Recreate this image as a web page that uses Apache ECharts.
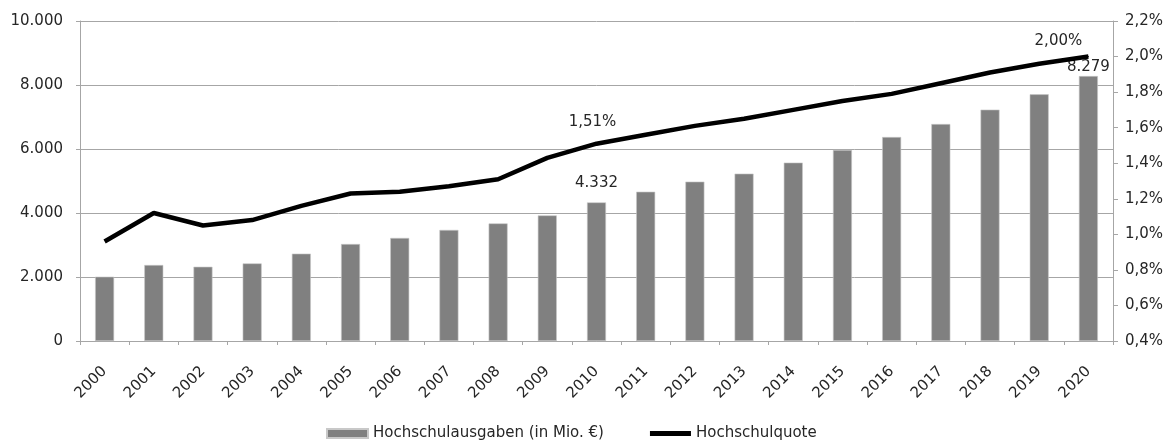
<!DOCTYPE html>
<html>
<head>
<meta charset="utf-8">
<script src="https://cdn.jsdelivr.net/npm/echarts@6/dist/echarts.min.js"></script>
<style>
  html, body { margin: 0; padding: 0; background: #fff; }
  #chart { width: 1172px; height: 443px; }
</style>
</head>
<body>
<div id="chart"></div>
<script>
// data
const years = ["2000", "2001", "2002", "2003", "2004", "2005", "2006", "2007", "2008", "2009", "2010",
  "2011", "2012", "2013", "2014", "2015", "2016", "2017", "2018", "2019", "2020"];
const ausgaben = [2010, 2375, 2320, 2425, 2730, 3030, 3220, 3470, 3675, 3925, 4332,
  4665, 4980, 5230, 5575, 5970, 6375, 6780, 7230, 7710, 8279];
const quote = [0.96, 1.12, 1.05, 1.08, 1.16, 1.23, 1.24, 1.27, 1.31, 1.43, 1.51,
  1.56, 1.61, 1.65, 1.70, 1.75, 1.79, 1.85, 1.91, 1.96, 2.00];
const leftTicks = [0, 2000, 4000, 6000, 8000, 10000];
const rightTicks = [0.4, 0.6, 0.8, 1.0, 1.2, 1.4, 1.6, 1.8, 2.0, 2.2];

const FONT = "'Century Gothic', 'DejaVu Sans', sans-serif";
const FS = 15;
const TXT = "#262626";
const GRIDC = "#a6a6a6";

function deNum(v) {
  return String(v).replace(/\B(?=(\d{3})+(?!\d))/g, ".");
}

// only 2010 and 2020 carry value labels
const barData = ausgaben.map((v, i) => {
  if (years[i] === "2010") return { value: v, label: { show: true, distance: 12 } };
  if (years[i] === "2020") return { value: v, label: { show: true, distance: 1 } };
  return v;
});
const lineData = quote.map((v, i) => {
  if (years[i] === "2010") {
    return { value: v, symbol: "circle", symbolSize: 1, label: { show: true, distance: 14, offset: [-4, 0] } };
  }
  if (years[i] === "2020") {
    return { value: v, symbol: "circle", symbolSize: 1, label: { show: true, distance: 7, offset: [-30, 0] } };
  }
  return v;
});

// thick bar for the line legend entry (move-to points keep the 41x9 box)
const lineIcon = "path://M0,0 M0,9 M0,2 L41,2 L41,7 L0,7 Z";

const chart = echarts.init(document.getElementById("chart"));
chart.setOption({
  animation: false,
  textStyle: { fontFamily: FONT, color: TXT },
  grid: { left: 80, right: 59, top: 21, bottom: 102, containLabel: false },
  legend: {
    top: 421,
    left: 321,
    itemGap: 46,
    itemWidth: 41,
    itemHeight: 9,
    textStyle: { fontFamily: FONT, fontSize: FS, color: TXT },
    data: [
      { name: "Hochschulausgaben (in Mio. €)", icon: "rect" },
      { name: "Hochschulquote", icon: lineIcon, itemStyle: { color: "#000" } }
    ]
  },
  xAxis: {
    type: "category",
    data: years,
    axisLine: { lineStyle: { color: GRIDC, width: 1 } },
    axisTick: { show: true, length: 4, lineStyle: { color: GRIDC } },
    axisLabel: { rotate: 45, fontFamily: FONT, fontSize: FS, color: TXT, margin: 28 }
  },
  yAxis: [
    {
      type: "value",
      min: leftTicks[0],
      max: leftTicks[leftTicks.length - 1],
      interval: 2000,
      axisLine: { show: true, lineStyle: { color: GRIDC } },
      axisTick: { show: true, length: 4, lineStyle: { color: GRIDC } },
      splitLine: { show: true, lineStyle: { color: GRIDC, width: 1 } },
      axisLabel: { fontFamily: FONT, fontSize: FS, color: TXT, margin: 17, formatter: v => deNum(v) }
    },
    {
      type: "value",
      min: rightTicks[0],
      max: rightTicks[rightTicks.length - 1],
      interval: 0.2,
      position: "right",
      axisLine: { show: true, lineStyle: { color: GRIDC } },
      axisTick: { show: true, length: 5, lineStyle: { color: GRIDC } },
      splitLine: { show: false },
      axisLabel: {
        fontFamily: FONT, fontSize: FS, color: TXT, margin: 12,
        formatter: v => v.toFixed(1).replace(".", ",") + "%"
      }
    }
  ],
  series: [
    {
      name: "Hochschulausgaben (in Mio. €)",
      type: "bar",
      yAxisIndex: 0,
      barWidth: 19,
      data: barData,
      itemStyle: { color: "#808080", borderColor: "#c8c8c8", borderWidth: 0.6 },
      label: {
        show: false,
        position: "top",
        fontFamily: FONT,
        fontSize: FS,
        color: TXT,
        formatter: p => deNum(p.value)
      }
    },
    {
      name: "Hochschulquote",
      type: "line",
      yAxisIndex: 1,
      data: lineData,
      symbol: "none",
      lineStyle: { color: "#000", width: 4.5 },
      itemStyle: { color: "#000" },
      label: {
        show: false,
        position: "top",
        fontFamily: FONT,
        fontSize: FS,
        color: TXT,
        formatter: p => p.value.toFixed(2).replace(".", ",") + "%"
      }
    }
  ]
});
</script>
</body>
</html>
